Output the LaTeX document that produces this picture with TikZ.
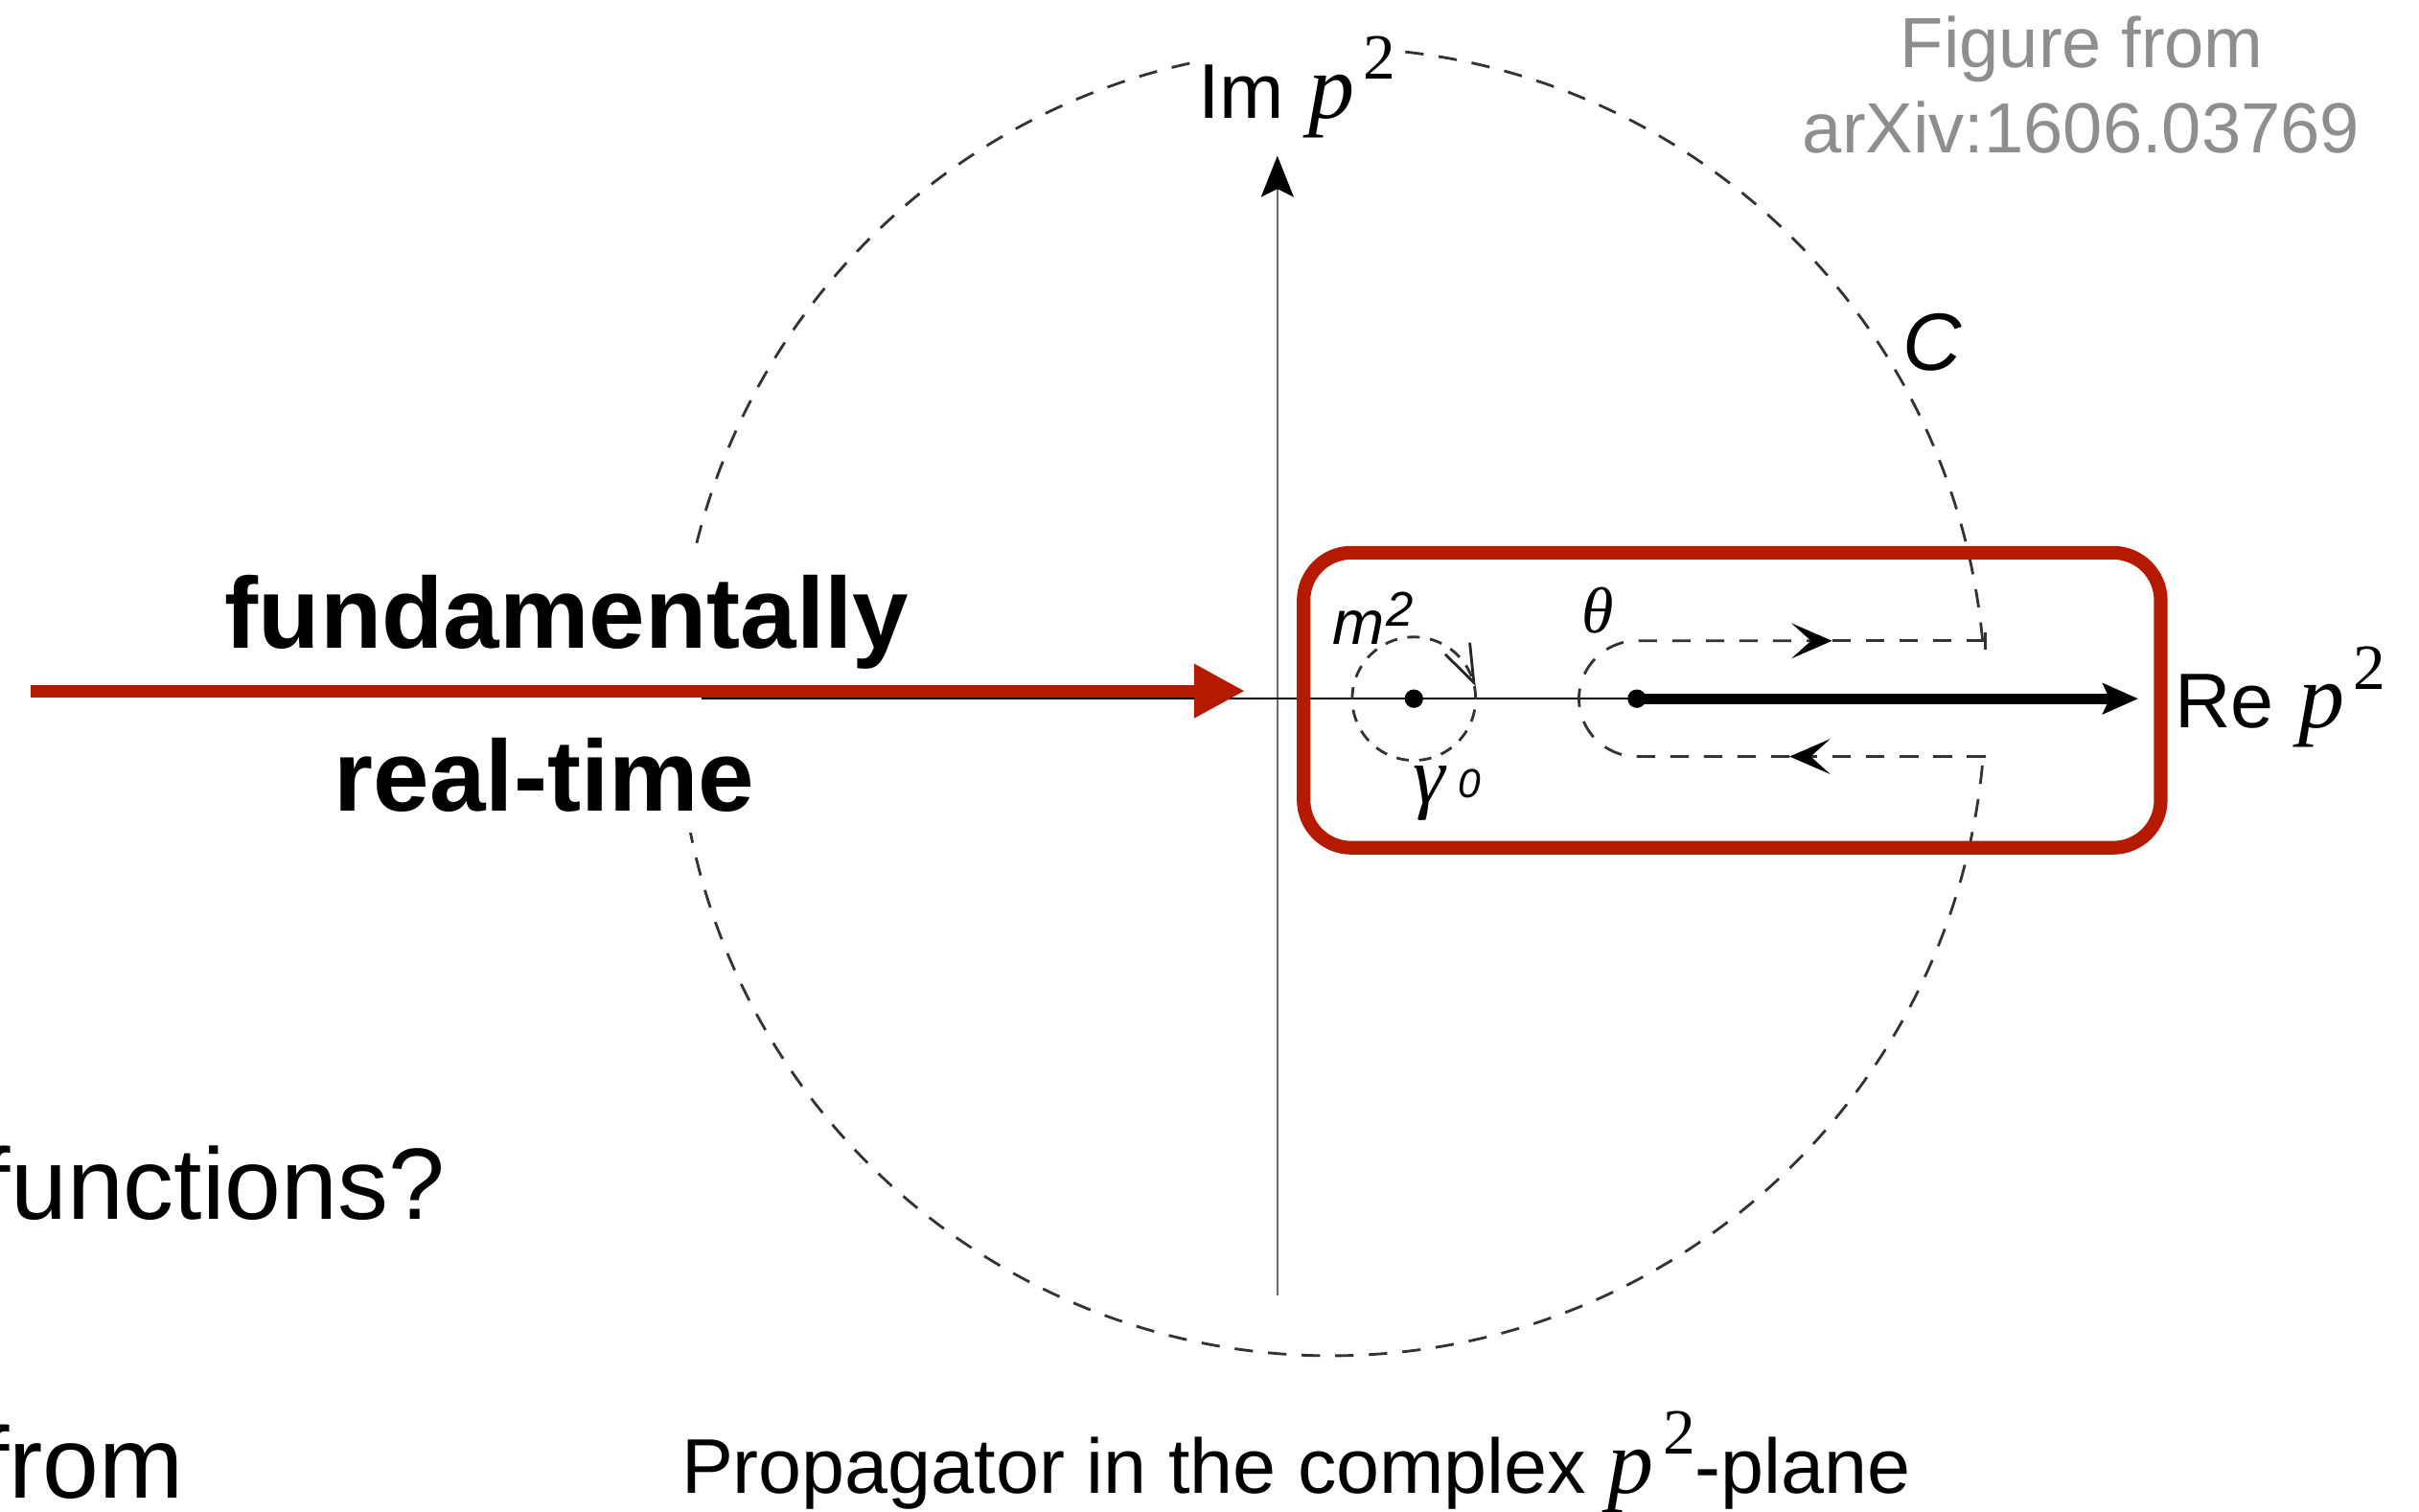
\documentclass[tikz,border=0pt]{standalone}
\usepackage{fontspec}
\usepackage{graphicx}
\setmainfont{Liberation Sans}
\newfontfamily\timesfont{Liberation Serif}
\usetikzlibrary{positioning, arrows.meta}
\definecolor{slidered}{HTML}{B51A00}
\definecolor{creditgray}{HTML}{8E8E8E}
\definecolor{axisgray}{HTML}{6A6A6A}
\newcommand{\psq}{{\timesfont\itshape p}\kern1.6pt\raisebox{0.42em}{\timesfont\scalebox{0.7}{2}}}

\begin{document}
\begin{tikzpicture}[x=0.1mm, y=0.1mm,
        bigword/.style={font=\fontsize{18.6}{22}\selectfont\bfseries, inner sep=0pt, anchor=base},
        slidetext/.style={font=\fontsize{18.7}{22}\selectfont, inner sep=0pt, anchor=base west},
        axislabel/.style={font=\fontsize{14.3}{17}\selectfont, inner sep=0pt, anchor=base west},
        credit/.style={font=\fontsize{13.1}{16}\selectfont, text=creditgray, inner sep=0pt, anchor=base},
        contour/.style={draw=black!80, line width=0.5pt, dash pattern=on 3.4pt off 2.8pt},
        smallloop/.style={draw=black!80, line width=0.5pt, dash pattern=on 2.3pt off 1.9pt},
        flowtip/.style={-{Stealth[length=7.5pt, width=6.5pt, inset=3.6pt, black]}},
        redbox/.style={draw=slidered, line width=2.5pt, rounded corners=8.8pt, inner sep=0pt}
      ]
        \useasboundingbox (0,0) rectangle (1568,980);

        \coordinate (O) at (863,525);
        \coordinate (mpole) at (916.5,527);
        \coordinate (loopTip) at (956.5,535);
        \coordinate (cut) at (1061,527);
        \coordinate (cutend) at (1386,527);
        \coordinate (axL) at (455,527);
        \coordinate (imbot) at (828,140);
        \coordinate (imtop) at (828,879);
        \coordinate (kU) at (1287,564.5);
        \coordinate (kL) at (1287,489.5);
        \coordinate (upTip) at (1187.6,564.5);
        \coordinate (lowTip) at (1160,489.5);
        \coordinate (redstart) at (20,532);
        \coordinate (redtip) at (807,532);

        \draw[contour] (O) ++(5.35:424) arc[start angle=5.35, end angle=355.2, radius=424];
        \fill[white] (0,440) rectangle (454,625);

        \draw[axisgray, line width=0.4pt, -{Stealth[length=7.6pt, width=6pt, inset=1.5pt, black]}] (imbot) -- (imtop);
        \draw[line width=0.45pt] (axL) -- (cut);
        \draw[line width=2pt, -{Stealth[length=6.5pt, width=5.6pt, inset=1.2pt]}] (cut) -- (cutend);
        \fill (mpole) circle[radius=6];
        \fill (cut) circle[radius=6];

        \draw[smallloop] (mpole) circle[radius=40];
        \draw[black!85, line width=0.5pt, -{Straight Barb[length=7pt, width=5pt]}] (loopTip) ++(115.5:3) -- (loopTip);

        \draw[contour, flowtip] (kL) -- (lowTip);
        \draw[contour, flowtip] (lowTip) -- (1061,489.5) arc[start angle=270, end angle=90, radius=37.5] -- (upTip);
        \draw[contour] (upTip) -- (kU);
        \draw[black!80, line width=0.5pt] (1287,559) -- (1287,570);

        \node[axislabel, fill=white] (imlabel) at (776,903.4) {Im\hspace{4.5pt}{\fontsize{17}{20}\selectfont\psq}};
        \node[axislabel] (relabel) at (1409,508) {Re\hspace{4.5pt}{\fontsize{17}{20}\selectfont\psq}};
        \node[font=\fontsize{15}{18}\selectfont\itshape, inner sep=0pt] (clabel) at (1252.5,758) {C};
        \node[anchor=base west, inner sep=0pt, font=\fontsize{11.5}{13}\selectfont\itshape] (mlabel) at (863,562)
          {m\kern0.3pt\raisebox{3.5pt}{\fontsize{9}{10}\selectfont 2}};
        \node[anchor=base west, inner sep=0pt] (glabel) at (915,459)
          {{\timesfont\itshape\fontsize{15}{17}\selectfont γ}\hspace{2.5pt}\raisebox{1.1pt}{\fontsize{7.5}{9}\selectfont\itshape 0}};
        \node[font=\timesfont\itshape\fontsize{12}{14}\selectfont, inner sep=0pt] (thlabel) at (1036,584.5) {θ};

        \node[redbox, minimum width=55.56mm, minimum height=19.13mm] (window) at (1122.8,526) {};
        \draw[slidered, line width=2.3pt, -{Triangle[length=9.4pt, width=9.4pt]}] (redstart) -- (redtip);

        \node[bigword] (fund) at (367.5,560) {fundamentally};
        \node[bigword] (rtime) at (353,454) {real-time};
        \node[slidetext] (funcs) at (-12,189.3) {functions?};
        \node[slidetext] (from) at (-13,9) {from};

        \node[axislabel] (caption) at (441,12) {Propagator in the complex {\fontsize{17}{20}\selectfont\psq}-plane};
        \node[credit] (fig) at (1349.5,936.5) {Figure from};
        \node[credit] (arxiv) at (1349,881) {arXiv:1606.03769};
      \end{tikzpicture}
\end{document}
